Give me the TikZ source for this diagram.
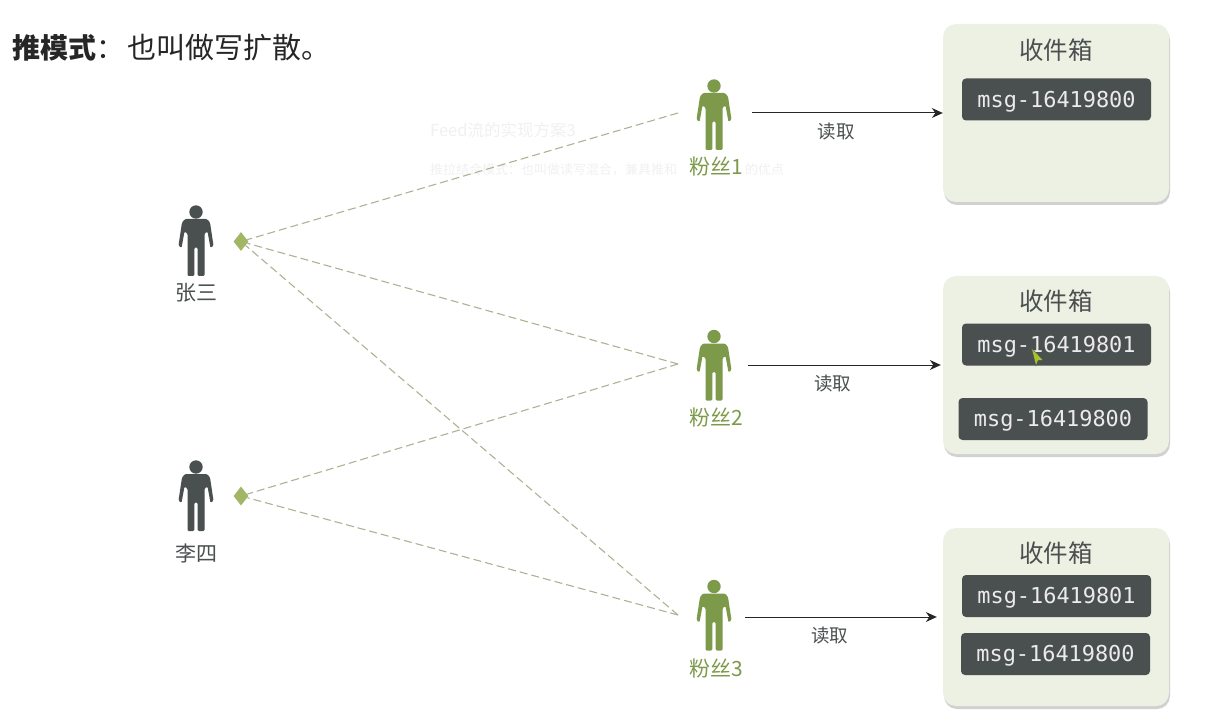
\documentclass[tikz,border=0pt]{standalone}
\usepackage{fontspec}
\setmainfont{Noto Sans CJK SC}
\setmonofont{DejaVu Sans Mono}
\usetikzlibrary{positioning,shapes.geometric,shadows,arrows.meta}

\definecolor{inkdark}{HTML}{4A4F4F}
\definecolor{fangreen}{HTML}{7D9A4B}
\definecolor{boxgreen}{HTML}{ECF1E4}
\definecolor{dashgreen}{HTML}{ADB293}
\definecolor{tipgreen}{HTML}{A3B665}

\tikzset{
  inbox/.style={draw=none, fill=boxgreen, rounded corners=13, minimum width=226, minimum height=178,
    drop shadow={shadow xshift=1, shadow yshift=3, opacity=.3, fill=black!60}},
  inboxtitle/.style={text=inkdark, font=\fontsize{24.5}{26}\selectfont, inner sep=0},
  msg/.style={fill=inkdark, text=white!92!black, rounded corners=4, minimum width=189, minimum height=42,
    inner sep=0, text height=16, text depth=0.5, font=\ttfamily\fontsize{21.9}{24}\selectfont},
  author/.style={text=inkdark, font=\fontsize{21}{24}\selectfont, inner sep=0},
  fan/.style={text=fangreen, font=\fontsize{21}{24}\selectfont, inner sep=0},
  readlabel/.style={text=inkdark, font=\fontsize{18.5}{20}\selectfont, inner sep=0},
  push/.style={draw=dashgreen, line width=1.1, dash pattern=on 8 off 4},
  pushtip/.style={diamond, fill=tipgreen, inner sep=0, minimum width=15, minimum height=19},
  readline/.style={draw=black!85, line width=1, -{Stealth[length=11, width=10]}},
  ghost/.style={anchor=west, inner sep=0, text=black!6, font=\fontsize{13}{15}\selectfont},
  person/.pic={
    \fill[pic actions] (0,-28.5) circle (6.7);
    \fill[pic actions, rounded corners=1.2] (-11,-21.5) -- (11,-21.5) -- (14,-18) -- (17.5,5) -- (14.5,7.5)
      -- (11.5,-9) -- (8.5,-7) -- (8.5,35.5) -- (1.6,35.5) -- (1.6,7) -- (-1.6,7) -- (-1.6,35.5) -- (-8.5,35.5)
      -- (-8.5,-7) -- (-11.5,-9) -- (-14.5,7.5) -- (-17.5,5) -- (-14,-18) -- cycle;
  },
}

\begin{document}
\begin{tikzpicture}[x=1pt, y=-1pt]
\useasboundingbox (0,0) rectangle (1215,727);

\node[anchor=west, inner sep=0, font=\fontsize{28}{30}\selectfont, text=black!85](title) at (12,48){\textbf{推模式}：\hspace{3pt}\fontsize{29}{30}\selectfont 也叫做写扩散。};
% ghost of the next slide
\node[ghost, text=red!5!black!6, font=\fontsize{16.5}{18}\selectfont](ghost1) at (430,130){Feed流的实现方案3};
\node[ghost](ghost2) at (430,170){推拉结合模式：也叫做读写混合，兼具推和};
\node[ghost](ghost3) at (745,170){的优点};

\node[pushtip](tipz) at (241,241.5){};
\node[pushtip](tipl) at (241,496){};
\coordinate (pushf1) at (678,113);
\coordinate (pushf2) at (678,364);
\coordinate (pushf3) at (678,615);
\draw[push] (pushf1) -- (tipz);
\draw[push] (pushf2) -- (tipz);
\draw[push] (pushf3) -- (tipz);
\draw[push] (pushf2) -- (tipl);
\draw[push] (pushf3) -- (tipl);

\pic[fill=inkdark] at (196,240.5) {person};
\node[author](zhang) at (196,293){张三};
\pic[fill=inkdark] at (196,495.5) {person};
\node[author](li) at (196,553){李四};

\pic[fill=fangreen] at (714,114.5) {person};
\node[fan](fan1) at (716,167){粉丝1};
\pic[fill=fangreen] at (714,365) {person};
\node[fan](fan2) at (716,418){粉丝2};
\pic[fill=fangreen] at (714,615) {person};
\node[fan](fan3) at (716,669){粉丝3};

\node[inbox](box1) at (1056,113){};
\node[inboxtitle](title1) at (1056,50){收件箱};
\node[msg](m1a) at (1056.5,99.5){msg-16419800};

\node[inbox](box2) at (1056,365){};
\node[inboxtitle](title2) at (1056,301){收件箱};
\node[msg](m2a) at (1056.5,344.5){msg-16419801};
\node[msg](m2b) at (1053,419){msg-16419800};

\node[inbox](box3) at (1056,617){};
\node[inboxtitle](title3) at (1056,553){收件箱};
\node[msg](m3a) at (1056.5,596){msg-16419801};
\node[msg](m3b) at (1055.5,654){msg-16419800};

\coordinate (read1) at (752,113);
\coordinate (read2) at (748,365);
\coordinate (read3) at (745,617);
\draw[readline] (read1) -- (box1.west);
\draw[readline, shorten >=2] (read2) -- (box2.west);
\draw[readline, shorten >=6] (read3) -- (box3.west);
\node[readlabel](r1) at (836,132){读取};
\node[readlabel](r2) at (832.5,384){读取};
\node[readlabel](r3) at (829.5,636){读取};

% mouse cursor
\fill[fill=yellow!70!green!85!black, draw=black!70, line width=.3] (1031.5,348) -- (1043,360) -- (1038,360.5) -- (1036,366) -- cycle;
\end{tikzpicture}
\end{document}
